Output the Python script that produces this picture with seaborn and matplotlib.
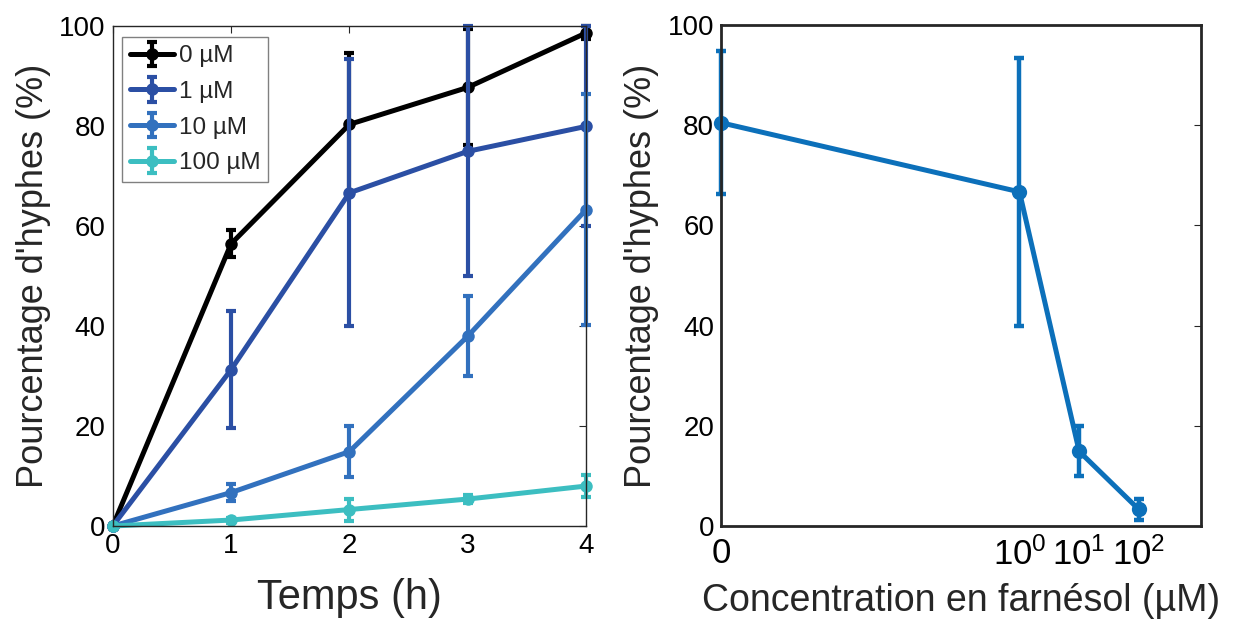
import numpy as np
import pandas as pd
import seaborn as sns
import matplotlib.pyplot as plt
from matplotlib.legend_handler import HandlerTuple
from matplotlib.ticker import FixedLocator, LogLocator, NullFormatter

# Left panel: % hyphae over time for each farnesol concentration
temps = [0, 1, 2, 3, 4]
conc_labels = ['0 µM', '1 µM', '10 µM', '100 µM']
pct_0 = [0, 56.5, 80.4, 87.8, 98.7]
err_0 = [0, 2.7, 14.2, 11.6, 1.3]
pct_1 = [0, 31.3, 66.7, 75.0, 80.0]
err_1 = [0, 11.7, 26.7, 25.0, 20.0]
pct_10 = [0, 6.7, 14.9, 38.0, 63.3]
err_10 = [0, 1.7, 5.1, 8.0, 23.1]
pct_100 = [0, 1.2, 3.3, 5.4, 8.0]
err_100 = [0, 0.5, 2.2, 0.8, 2.2]

# Right panel: % hyphae at 2 h vs concentration
conc_values = [0, 1, 10, 100]
pct_2h = [80.5, 66.7, 14.9, 3.3]
err_2h = [14.3, 26.7, 5.0, 2.1]

colors = ['#000000', '#2B4FA4', '#3271BE', '#3CBEC1']
right_color = '#0C70BA'
zero_pos = 1e-5   # where "0" sits on the log axis

sns.set_theme(style='white')
plt.rcParams['font.family'] = ['Liberation Sans', 'DejaVu Sans']
plt.rcParams['mathtext.fontset'] = 'custom'
plt.rcParams['mathtext.rm'] = 'Liberation Sans'
plt.rcParams['mathtext.it'] = 'Liberation Sans'
plt.rcParams['axes.edgecolor'] = '#262626'

fig = plt.figure(figsize=(12.35, 6.26), dpi=100)
ax1 = fig.add_axes([0.0913, 0.1597, 0.3832, 0.798])
ax2 = fig.add_axes([0.5838, 0.1597, 0.3887, 0.8003])

# ── left panel ──
series = [(pct_0, err_0), (pct_1, err_1), (pct_10, err_10), (pct_100, err_100)]
handles = []
for (vals, errs), color, lab in zip(series, colors, conc_labels):
    df = pd.DataFrame({'t': temps, 'p': vals})
    sns.lineplot(data=df, x='t', y='p', color=color, marker='o', markersize=9,
                 markeredgewidth=0, linewidth=3.6, ax=ax1, clip_on=False)
    line = ax1.lines[-1]
    eb = ax1.errorbar(temps, vals, yerr=errs, fmt='none', ecolor=color,
                      elinewidth=3, capsize=3.5, capthick=3, clip_on=False)
    handles.append((line, eb))

ax1.set_xlim(0, 4)
ax1.set_ylim(0, 100)
ax1.set_xticks(temps)
ax1.set_yticks([0, 20, 40, 60, 80, 100])
ax1.tick_params(direction='in', top=True, right=True, length=5, width=0.8,
                labelsize=20, pad=5, colors='#262626', labelcolor='black')
for sp in ax1.spines.values():
    sp.set_linewidth(1.0)
ax1.set_xlabel('Temps (h)', fontsize=30, labelpad=14)
ax1.set_ylabel("Pourcentage d'hyphes (%)", fontsize=26, labelpad=6)

leg = ax1.legend(handles, conc_labels, handler_map={tuple: HandlerTuple(ndivide=1)},
                 loc='upper left', bbox_to_anchor=(0.02, 0.978), borderaxespad=0,
                 fontsize=17.5, frameon=True, fancybox=False, framealpha=1,
                 edgecolor='#808080', handlelength=1.8, handletextpad=0.2,
                 labelspacing=0.56, borderpad=0.32)
leg.get_frame().set_linewidth(1.0)

# ── right panel ──
x_plot = [zero_pos if c == 0 else c for c in conc_values]
df2 = pd.DataFrame({'c': x_plot, 'p': pct_2h})
sns.lineplot(data=df2, x='c', y='p', color=right_color, marker='o', markersize=11,
             markeredgewidth=0, linewidth=3.6, ax=ax2, clip_on=False)
ax2.errorbar(x_plot, pct_2h, yerr=err_2h, fmt='none', ecolor=right_color,
             elinewidth=3.2, capsize=3.5, capthick=3.2, clip_on=False)
ax2.set_xscale('log')
ax2.set_xlim(zero_pos, 1.1e3)
ax2.set_ylim(0, 100)
ax2.xaxis.set_major_locator(FixedLocator(x_plot))
ax2.set_xticklabels(['0', '$10^0$', '$10^1$', '$10^2$'])
ax2.xaxis.set_minor_locator(LogLocator(base=10, subs=np.arange(2, 10), numticks=50))
ax2.xaxis.set_minor_formatter(NullFormatter())
ax2.set_yticks([0, 20, 40, 60, 80, 100])
ax2.tick_params(axis='x', which='major', direction='in', length=14, width=1.5,
                labelsize=25, pad=8, colors='#262626', labelcolor='black')
ax2.tick_params(axis='x', which='minor', direction='in', length=4, width=0.8,
                colors='#262626')
ax2.tick_params(axis='y', direction='in', right=True, length=5, width=0.8,
                labelsize=20, pad=5, colors='#262626', labelcolor='black')
for sp in ax2.spines.values():
    sp.set_linewidth(2.0)
ax2.set_xlabel('Concentration en farnésol (µM)', fontsize=27, labelpad=8)
ax2.set_ylabel("Pourcentage d'hyphes (%)", fontsize=26, labelpad=6)

plt.savefig('out.png', dpi=100)
